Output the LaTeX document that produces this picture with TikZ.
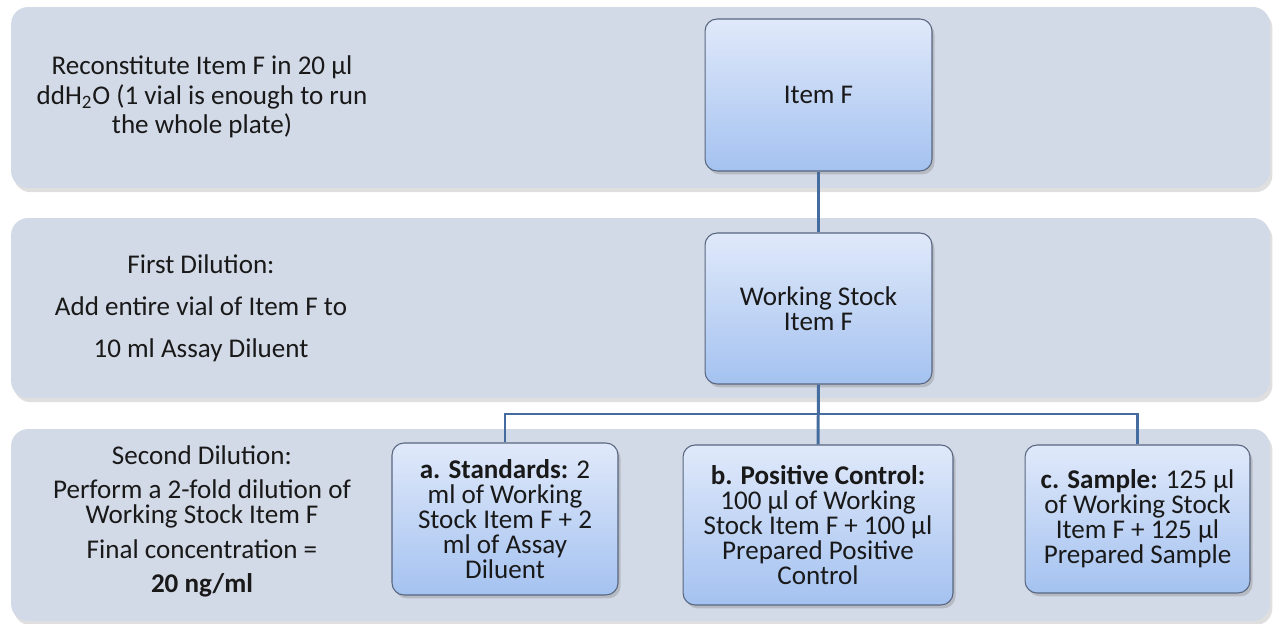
\documentclass[tikz,border=0pt]{standalone}
\usepackage{fontspec}
\setmainfont{Carlito}
\usepackage{xcolor}
\usepackage{tikz}
\usetikzlibrary{
    positioning,
    shadows,
    calc
}
\definecolor{stagefill}{RGB}{211,218,231}
\definecolor{boxtop}{RGB}{224,233,250}
\definecolor{boxbottom}{RGB}{164,194,240}
\definecolor{boxline}{RGB}{88,102,128}
\definecolor{linkblue}{RGB}{68,108,158}
\definecolor{inktext}{RGB}{25,25,25}
\tikzset{
    stage/.style={
        rectangle,
        fill=stagefill,
        rounded corners=0.34cm,
        minimum width=25.18cm,
        drop shadow={shadow xshift=0.3ex, shadow yshift=-0.5ex, opacity=0.25}
    },
    item/.style={
        rectangle,
        draw=boxline,
        top color=boxtop,
        bottom color=boxbottom,
        rounded corners=0.24cm,
        align=center,
        text=inktext,
        font=\fontsize{15.4}{14.2}\selectfont,
        drop shadow={shadow xshift=0.3ex, shadow yshift=-0.4ex, opacity=0.35},
        line width=0.6pt
    },
    note/.style={
        align=center,
        text=inktext,
        font=\fontsize{15.4}{16.8}\selectfont
    },
    link/.style={
        draw=linkblue,
        line width=1.7pt
    }
}

\begin{document}
\begin{tikzpicture}[x=0.02cm, y=-0.02cm]
    \useasboundingbox[fill=white] (0,0) rectangle (1278,624);

    % Stage bands
    \node[stage, minimum height=3.62cm] (stage1) at (640.5,97.5) {};
    \node[stage, minimum height=3.60cm] (stage2) at (640.5,308) {};
    \node[stage, minimum height=3.84cm] (stage3) at (640.5,525) {};

    % Left hand instructions
    \node[note] (note1) at (202,97) {Reconstitute Item F in 20 µl\\
        ddH\textsubscript{2}O (1 vial is enough to run\\ the whole plate)};
    \node[note, font=\fontsize{15.4}{23.9}\selectfont] (note2) at (201,308)
        {First Dilution:\\ Add entire vial of Item F to\\ 10 ml Assay Diluent};
    \node[note, font=\fontsize{15.4}{14.2}\selectfont] (note3) at (202,521)
        {Second Dilution:\\[5.5pt] Perform a 2-fold dilution of\\ Working Stock Item F\\[5.5pt]
         Final concentration =\\[5pt] \textbf{20 ng/ml}};

    % Tubes
    \node[item, minimum width=4.54cm, minimum height=3.04cm] (itemF) at (818.5,95) {Item F};
    \node[item, minimum width=4.54cm, minimum height=3.02cm] (stock) at (818.5,308.5)
        {Working Stock\\ Item F};
    \node[item, minimum width=4.52cm, minimum height=3.04cm] (boxA) at (505,519)
        {\textbf{a. Standards:} 2\\ ml of Working\\ Stock Item F + 2\\ ml of Assay\\ Diluent};
    \node[item, minimum width=5.40cm, minimum height=3.20cm] (boxB) at (818,525)
        {\textbf{b. Positive Control:}\\ 100 µl of Working\\ Stock Item F + 100 µl\\
         Prepared Positive\\ Control};
    \node[item, minimum width=4.50cm, minimum height=2.96cm] (boxC) at (1137.5,519)
        {\textbf{c. Sample:} 125 µl\\ of Working Stock\\ Item F + 125 µl\\ Prepared Sample};

    % Connectors
    \coordinate (bus) at (818,414);
    \draw[link] (itemF.south) -- (stock.north);
    \draw[link] (stock.south) -- (boxB.north);
    \draw[link] (boxA.north) |- (bus) -| (boxC.north);
\end{tikzpicture}
\end{document}
